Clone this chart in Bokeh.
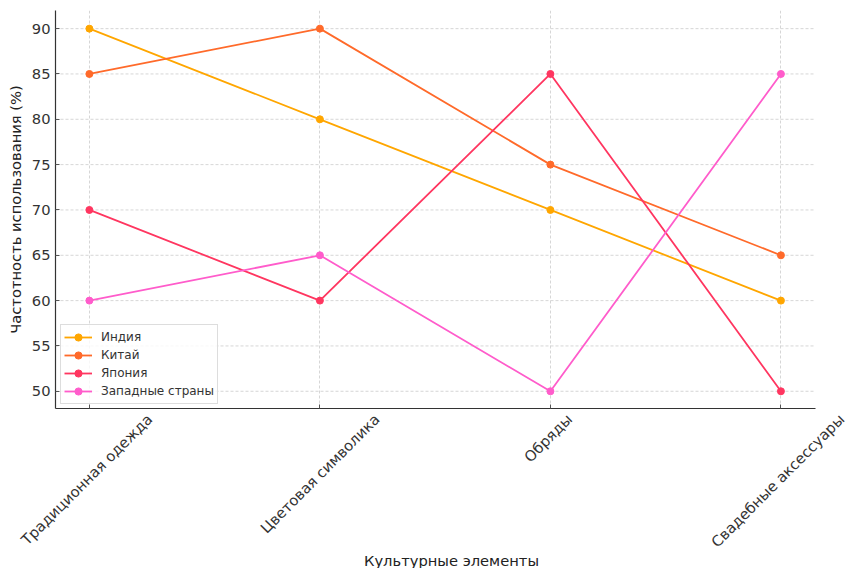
import math
from bokeh.plotting import figure
from bokeh.models import FixedTicker, Range1d, Legend, LegendItem, LinearAxis
from bokeh.embed import file_html
from bokeh.resources import INLINE

categories = ["Традиционная одежда", "Цветовая символика", "Обряды", "Свадебные аксессуары"]
india = [90, 80, 70, 60]
china = [85, 90, 75, 65]
japan = [70, 60, 85, 50]
west = [60, 65, 50, 85]
series_names = ["Индия", "Китай", "Япония", "Западные страны"]
colors = ["#FFA600", "#FF6A2A", "#FF3660", "#FF5CCB"]
y_ticks = [50, 55, 60, 65, 70, 75, 80, 85, 90]

xs = list(range(len(categories)))
FONT = "DejaVu Sans"
FS = 14.7
X0, XR = -0.147, 3.15          # visible axes extent (left spine .. right end)
Y0, Y1 = 48.1, 92.0
AXW, FH = 760, 398
px_per_x = AXW / (XR - X0)
FW = 792                        # frame extends to the page edge so rotated labels fit
X1 = X0 + FW / px_per_x

p = figure(frame_width=FW, frame_height=FH, output_backend="svg", toolbar_location=None,
           x_range=Range1d(X0, X1), y_range=Range1d(Y0, Y1),
           min_border_left=55, min_border_top=10, min_border_right=0, min_border_bottom=0)
p.outline_line_color = None
p.background_fill_color = "white"

# grid lines (drawn as segments so they stop at the axes' right end)
p.ygrid.visible = False
p.segment(x0=[X0] * len(y_ticks), x1=[XR] * len(y_ticks), y0=y_ticks, y1=y_ticks,
          line_color="#cccccc", line_dash="3 2", line_width=0.8)
p.xgrid.ticker = FixedTicker(ticks=xs)
p.xgrid.grid_line_color = "#cccccc"
p.xgrid.grid_line_dash = "3 2"
p.xgrid.grid_line_width = 0.8

items = []
for name, vals, c in zip(series_names, [india, china, japan, west], colors):
    r1 = p.line(xs, vals, line_color=c, line_width=1.8)
    r2 = p.scatter(xs, vals, size=7, fill_color=c, line_color=c)
    items.append(LegendItem(label=name, renderers=[r1, r2]))

legend = Legend(items=items, location=(5, 4))
legend.label_text_font = FONT
legend.label_text_font_size = "12px"
legend.label_text_color = "#333333"
legend.border_line_color = "#dddddd"
legend.border_line_alpha = 1
legend.background_fill_alpha = 0.8
legend.spacing = 0
legend.padding = 3
legend.margin = 0
legend.label_height = 18
legend.glyph_height = 18
legend.glyph_width = 28
legend.label_standoff = 9
p.add_layout(legend)

p.xaxis.ticker = FixedTicker(ticks=xs)
p.xaxis.bounds = (X0, XR)
p.xaxis.major_label_overrides = {i: "" for i in xs}
p.xaxis.major_label_standoff = 0
p.yaxis.ticker = FixedTicker(ticks=y_ticks)

for ax in [p.xaxis[0], p.yaxis[0]]:
    ax.major_label_text_font = FONT
    ax.major_label_text_font_size = f"{FS}px"
    ax.major_label_text_color = "#333333"
    ax.axis_label_text_font = FONT
    ax.axis_label_text_font_size = f"{FS}px"
    ax.axis_label_text_font_style = "normal"
    ax.axis_label_text_color = "#222222"
    ax.axis_line_color = "#333333"
    ax.axis_line_width = 1.2
    ax.major_tick_in = 4
    ax.major_tick_out = 0
    ax.major_tick_line_color = "#555555"
    ax.minor_tick_line_color = None
p.xaxis.major_label_text_font_size = "1px"
p.yaxis.axis_label = "Частотность использования (%)"

# second, line-less axis carrying the rotated category labels centred on each tick
char_w = 0.607 * FS
shifted = []
for i, cat in enumerate(categories):
    L = len(cat) * char_w
    shifted.append(round(i + 0.354 * L / px_per_x, 4))
lab_axis = LinearAxis(ticker=FixedTicker(ticks=shifted),
                      major_label_overrides={t: c for t, c in zip(shifted, categories)},
                      major_label_orientation=math.pi / 4,
                      axis_line_color=None, major_tick_line_color=None,
                      minor_tick_line_color=None,
                      major_label_text_font=FONT, major_label_text_font_size=f"{FS}px",
                      major_label_text_color="#333333", major_label_standoff=2,
                      axis_label="Культурные элементы", axis_label_standoff=-7,
                      axis_label_text_font=FONT, axis_label_text_font_size=f"{FS}px",
                      axis_label_text_font_style="normal", axis_label_text_color="#222222")
p.add_layout(lab_axis, "below")

open("out.html", "w").write(file_html(p, INLINE))
